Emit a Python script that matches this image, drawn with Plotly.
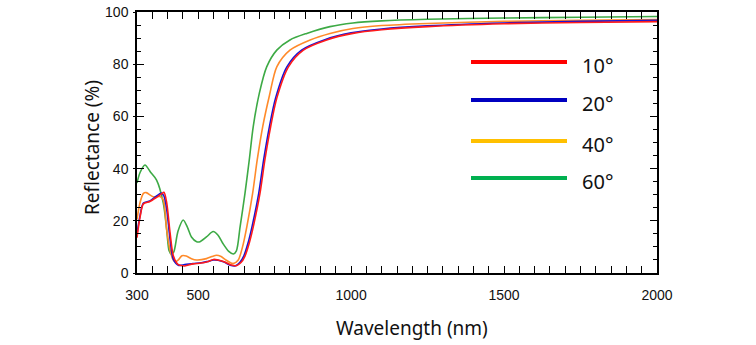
import plotly.graph_objects as go

# Reflectance spectra at four incidence angles
wl_10 = [300, 310, 321, 342, 364, 380, 388, 397, 408, 419, 435, 456, 483, 510, 530, 550, 565, 585,
         605, 625, 640, 653, 667, 680, 702, 718, 737, 757, 795, 844, 920, 1006, 1100, 1250, 1500, 1750, 2000]
r_10 = [13.5, 21.5, 26.5, 27.4, 29.0, 30.3, 30.9, 27.0, 15.5, 6.5, 3.2, 2.7, 3.5, 3.8, 4.3, 5.2, 5.0, 4.3,
        3.2, 2.8, 4.0, 6.5, 11.5, 17.7, 30.5, 43.3, 56.1, 67.0, 79.0, 85.4, 89.3, 91.8, 93.2, 94.4, 95.5, 96.0, 96.3]

wl_20 = [300, 310, 321, 342, 364, 380, 388, 397, 408, 419, 435, 456, 483, 510, 530, 550, 565, 585,
         605, 622, 636, 649, 663, 676, 698, 714, 733, 753, 790, 838, 912, 1000, 1100, 1250, 1500, 1750, 2000]
r_20 = [15.0, 22.0, 26.8, 27.6, 29.5, 30.6, 29.5, 24.5, 13.0, 5.2, 3.0, 3.2, 3.6, 3.9, 4.4, 5.0, 4.9, 4.2,
        3.0, 2.8, 4.0, 6.5, 11.5, 17.7, 30.5, 43.3, 56.1, 67.0, 79.0, 85.4, 89.3, 92.0, 93.5, 94.7, 95.8, 96.4, 96.8]

wl_40 = [300, 310, 321, 330, 353, 375, 386, 397, 408, 418, 425, 435, 447, 461, 478, 495, 527, 545, 560,
         575, 592, 614, 631, 645, 659, 678, 693, 711, 733, 757, 800, 866, 931, 1006, 1100, 1250, 1500, 1750, 2000]
r_40 = [20.5, 27.0, 30.5, 30.8, 29.2, 29.3, 28.0, 16.6, 8.8, 5.0, 4.2, 5.0, 6.6, 6.5, 5.5, 5.0, 5.5, 6.3, 6.8,
        6.3, 4.9, 3.6, 5.0, 10.0, 17.7, 30.5, 43.3, 56.1, 68.0, 79.0, 85.4, 89.3, 91.8, 93.7, 94.8, 95.6, 96.4, 96.8, 97.1]

wl_60 = [300, 310, 326, 345, 364, 386, 397, 405, 412, 420, 434, 451, 465, 478, 495, 506, 527, 549, 565,
         581, 600, 615, 625, 637, 653, 667, 680, 700, 724, 757, 800, 855, 931, 1006, 1100, 1250, 1500, 1750, 2000]
r_60 = [34.5, 38.5, 41.4, 38.5, 35.6, 26.8, 16.6, 8.5, 7.2, 8.0, 16.0, 20.3, 17.5, 13.8, 12.0, 12.0, 13.8, 15.9, 14.5,
        11.3, 8.3, 7.3, 8.5, 17.7, 30.5, 43.3, 56.1, 68.9, 79.0, 85.4, 89.3, 91.8, 94.4, 95.8, 96.6, 97.2, 97.7, 98.0, 98.3]

angle_labels = ["10°", "20°", "40°", "60°"]
curve_colors = ["#FF1A1A", "#1414D8", "#FF8A2A", "#3DAA45"]
key_colors = ["#FF0000", "#0000C0", "#FFC000", "#00B050"]

series = [(wl_10, r_10), (wl_20, r_20), (wl_40, r_40), (wl_60, r_60)]

fig = go.Figure()
# draw 60 first so red sits on top
for i in [3, 2, 1, 0]:
    wl, r = series[i]
    fig.add_trace(go.Scatter(
        x=wl, y=r, mode="lines", name=angle_labels[i],
        line=dict(color=curve_colors[i], width=1.6, shape="spline", smoothing=0.8),
        showlegend=False, hoverinfo="skip",
    ))

# outward stubs for the major y ticks
fig.add_trace(go.Scatter(x=[None], y=[None], yaxis="y2", showlegend=False))

PLOT_L, PLOT_W, PLOT_B, PLOT_H = 137, 520, 273, 261


def px_x(px):
    return (px - PLOT_L) / PLOT_W


def px_y(py):
    return (PLOT_B - py) / PLOT_H


# hand-placed key: coloured bars with angle labels
key_rows = [62, 100, 141, 178]
for lab, col, row in zip(angle_labels, key_colors, key_rows):
    fig.add_shape(type="line", xref="paper", yref="paper",
                  x0=px_x(471), x1=px_x(567), y0=px_y(row), y1=px_y(row),
                  line=dict(color=col, width=4))
    fig.add_annotation(xref="paper", yref="paper", x=px_x(580), y=px_y(row + 3),
                       text=lab, showarrow=False, xanchor="left", yanchor="middle",
                       font=dict(family="Noto Sans, Open Sans, sans-serif", size=20, color="#111"))

title_font = dict(family="Noto Sans, Open Sans, sans-serif", size=19, color="#111")
fig.add_annotation(xref="paper", yref="paper", x=px_x(412), y=px_y(328),
                   text="Wavelength (nm)", showarrow=False, xanchor="center", yanchor="middle",
                   font=title_font)
fig.add_annotation(xref="paper", yref="paper", x=px_x(92), y=px_y(148),
                   text="Reflectance (%)", showarrow=False, textangle=-90,
                   xanchor="center", yanchor="middle", font=title_font)

tick_font = dict(family="Liberation Sans, Arial, sans-serif", size=14, color="#111")

fig.update_layout(
    width=756, height=345,
    margin=dict(l=137, r=99, t=12, b=72, autoexpand=False),
    paper_bgcolor="white", plot_bgcolor="white",
    xaxis=dict(
        range=[300, 2000], tickvals=[300, 500, 1000, 1500, 2000], automargin=False,
        ticks="inside", ticklen=7, tickwidth=1.3, tickcolor="black",
        minor=dict(dtick=50, tick0=300, ticks="inside", ticklen=4, tickcolor="black", tickwidth=1.2, showgrid=False),
        mirror="allticks", showline=True, linecolor="black", linewidth=1.5,
        showgrid=False, zeroline=False, tickfont=tick_font, ticklabelstandoff=8,
    ),
    yaxis=dict(
        range=[0, 100], tick0=0, dtick=20, automargin=False,
        ticks="inside", ticklen=7, tickwidth=1.3, tickcolor="black",
        minor=dict(dtick=5, ticks="inside", ticklen=4, tickcolor="black", tickwidth=1.2, showgrid=False),
        mirror="allticks", showline=True, linecolor="black", linewidth=1.5,
        showgrid=False, zeroline=False, tickfont=tick_font, ticklabelstandoff=4,
    ),
    yaxis2=dict(
        overlaying="y", range=[0, 100], tick0=0, dtick=20, side="left", automargin=False,
        ticks="outside", ticklen=3, tickwidth=1.3, tickcolor="black",
        showticklabels=False, showgrid=False, zeroline=False, showline=False,
    ),
)

fig.write_html("out.html")
